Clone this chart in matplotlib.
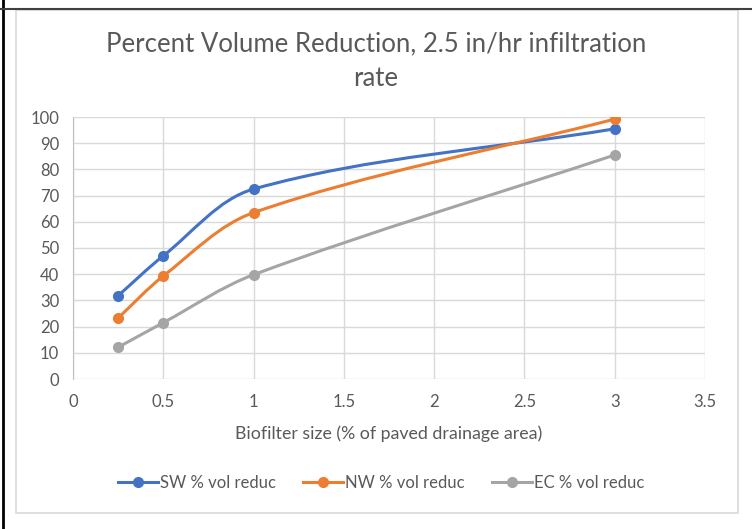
import matplotlib.pyplot as plt
from matplotlib.path import Path
from matplotlib.patches import PathPatch, Rectangle
from matplotlib.lines import Line2D

plt.rcParams['font.family'] = ['Lato', 'DejaVu Sans']

sizes = [0.25, 0.5, 1, 3]
sw = [31.8, 47.0, 72.5, 95.5]
nw = [23.3, 39.3, 63.5, 99.2]
ec = [12.1, 21.5, 39.8, 85.5]
names = ["SW % vol reduc", "NW % vol reduc", "EC % vol reduc"]
colors = ["#4472C4", "#ED7D31", "#A5A5A5"]


def smooth_path(ax, xs, ys):
    # smoothed line like Excel's: Beziers built in pixel space,
    # handle lengths scaled by chord length
    to_px = ax.transData
    pts = [tuple(p) for p in to_px.transform(list(zip(xs, ys)))]
    n = len(pts)

    def dist(a, b):
        return ((a[0] - b[0]) ** 2 + (a[1] - b[1]) ** 2) ** 0.5

    verts = [pts[0]]
    codes = [Path.MOVETO]
    for i in range(n - 1):
        p1, p2 = pts[i], pts[i + 1]
        d = dist(p1, p2)
        if i > 0:
            p0 = pts[i - 1]
            f = d / (dist(p0, p1) + d) / 2
            c1 = (p1[0] + (p2[0] - p0[0]) * f * 2 / 3, p1[1] + (p2[1] - p0[1]) * f * 2 / 3)
        else:
            c1 = (p1[0] + (p2[0] - p1[0]) / 3, p1[1] + (p2[1] - p1[1]) / 3)
        if i + 2 < n:
            p3 = pts[i + 2]
            f = d / (dist(p2, p3) + d) / 2
            c2 = (p2[0] - (p3[0] - p1[0]) * f * 2 / 3, p2[1] - (p3[1] - p1[1]) * f * 2 / 3)
        else:
            c2 = (p2[0] - (p2[0] - p1[0]) / 3, p2[1] - (p2[1] - p1[1]) / 3)
        verts += [c1, c2, p2]
        codes += [Path.CURVE4] * 3
    data = to_px.inverted().transform(verts)
    return Path(data, codes)


fig = plt.figure(figsize=(7.52, 5.29), dpi=100)
ax = fig.add_axes([73 / 752, 1 - 379 / 529, 632 / 752, 262 / 529])
ax.set_xlim(0, 3.5)
ax.set_ylim(0, 100)

for ys, c in zip([sw, nw, ec], colors):
    ax.add_patch(PathPatch(smooth_path(ax, sizes, ys), facecolor='none',
                           edgecolor=c, lw=2.2, zorder=3))
    ax.plot(sizes, ys, 'o', color=c, ms=7, zorder=4)

ax.set_xticks([0, 0.5, 1, 1.5, 2, 2.5, 3, 3.5])
ax.set_xticklabels(["0", "0.5", "1", "1.5", "2", "2.5", "3", "3.5"])
ax.set_yticks(range(0, 101, 10))
ax.grid(True, color="#D9D9D9", lw=1)
ax.set_axisbelow(True)
for s in ['top', 'right', 'bottom']:
    ax.spines[s].set_visible(False)
ax.spines['left'].set_color("#BFBFBF")
ax.tick_params(length=0, colors="#595959", labelsize=12)
ax.tick_params(axis='y', pad=10)
ax.tick_params(axis='x', pad=11)

ax.set_xlabel("Biofilter size (% of paved drainage area)", fontsize=12.8,
              color="#595959", labelpad=11)
fig.text(0.5, 1 - 61 / 529, "Percent Volume Reduction, 2.5 in/hr infiltration\nrate",
         ha='center', va='center', fontsize=18.5, color="#595959", linespacing=1.5)

handles = [Line2D([], [], color=c, lw=2.2, marker='o', ms=7) for c in colors]
fig.legend(handles, names, loc='center', bbox_to_anchor=(381 / 752, 1 - 483 / 529),
           ncol=3, frameon=False, fontsize=12, labelcolor="#595959",
           handlelength=2.4, handletextpad=0.15, columnspacing=1.6)

# chart frame and the sheet border lines
fig.patches.append(Rectangle((16 / 752, 1 - 513 / 529), 722 / 752, 503 / 529,
                             transform=fig.transFigure, fill=False,
                             edgecolor="#D9D9D9", lw=1.2))
fig.lines.append(Line2D([3 / 752, 3 / 752], [0, 1], transform=fig.transFigure,
                        color='black', lw=2))
fig.lines.append(Line2D([0, 1], [1 - 8.5 / 529, 1 - 8.5 / 529],
                        transform=fig.transFigure, color='#404040', lw=1.5))

fig.savefig("out.png", dpi=100)
